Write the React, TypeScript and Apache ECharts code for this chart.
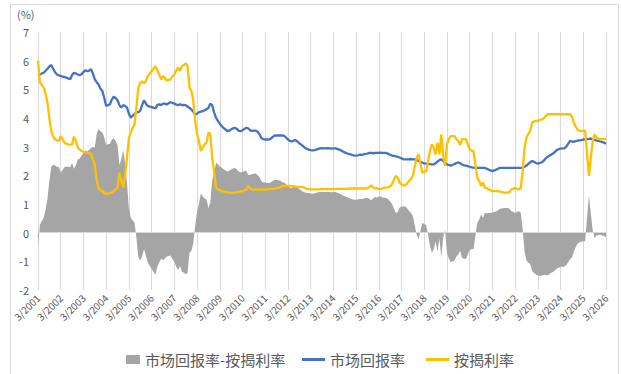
import React, { useEffect, useRef } from "react";
import * as echarts from "echarts";

// Monthly observations, March 2001 to March 2026 (one row per year, starting in March)
const marketReturn: number[] = [
  5.50, 5.52, 5.55, 5.58, 5.65, 5.72, 5.80, 5.85, 5.72, 5.60, 5.52, 5.49,
  5.47, 5.44, 5.43, 5.41, 5.38, 5.35, 5.50, 5.58, 5.55, 5.52, 5.49, 5.53,
  5.60, 5.67, 5.63, 5.65, 5.70, 5.55, 5.35, 5.25, 5.17, 5.02, 4.94, 4.70,
  4.42, 4.45, 4.48, 4.65, 4.74, 4.70, 4.62, 4.45, 4.36, 4.45, 4.42, 4.36,
  4.15, 4.01, 4.08, 4.13, 4.21, 4.20, 4.26, 4.45, 4.62, 4.50, 4.42, 4.40,
  4.38, 4.36, 4.33, 4.45, 4.48, 4.45, 4.50, 4.50, 4.47, 4.52, 4.55, 4.53,
  4.50, 4.47, 4.45, 4.48, 4.45, 4.46, 4.45, 4.40, 4.35, 4.30, 4.22, 4.12,
  4.15, 4.20, 4.22, 4.24, 4.27, 4.30, 4.35, 4.50, 4.45, 4.20, 4.01, 3.90,
  3.80, 3.72, 3.65, 3.60, 3.54, 3.56, 3.60, 3.64, 3.66, 3.62, 3.55, 3.54,
  3.57, 3.62, 3.66, 3.64, 3.57, 3.55, 3.56, 3.56, 3.52, 3.43, 3.30, 3.26,
  3.25, 3.25, 3.25, 3.28, 3.34, 3.39, 3.39, 3.39, 3.39, 3.39, 3.38, 3.32,
  3.25, 3.20, 3.18, 3.21, 3.23, 3.18, 3.12, 3.07, 3.02, 2.96, 2.92, 2.90,
  2.88, 2.87, 2.88, 2.90, 2.92, 2.94, 2.95, 2.94, 2.94, 2.95, 2.94, 2.93,
  2.94, 2.94, 2.92, 2.90, 2.87, 2.83, 2.80, 2.77, 2.75, 2.73, 2.71, 2.69,
  2.69, 2.70, 2.72, 2.71, 2.73, 2.75, 2.76, 2.78, 2.78, 2.77, 2.78, 2.78,
  2.78, 2.79, 2.78, 2.78, 2.78, 2.75, 2.72, 2.69, 2.68, 2.66, 2.65, 2.62,
  2.59, 2.56, 2.56, 2.56, 2.56, 2.57, 2.56, 2.56, 2.54, 2.50, 2.47, 2.44,
  2.42, 2.41, 2.40, 2.39, 2.38, 2.38, 2.42, 2.48, 2.53, 2.56, 2.50, 2.42,
  2.38, 2.36, 2.34, 2.36, 2.40, 2.43, 2.45, 2.42, 2.38, 2.35, 2.34, 2.32,
  2.30, 2.28, 2.27, 2.26, 2.26, 2.26, 2.26, 2.26, 2.26, 2.23, 2.20, 2.17,
  2.15, 2.17, 2.20, 2.23, 2.26, 2.26, 2.26, 2.26, 2.26, 2.26, 2.26, 2.26,
  2.26, 2.26, 2.26, 2.26, 2.26, 2.30, 2.34, 2.40, 2.46, 2.50, 2.47, 2.43,
  2.41, 2.43, 2.45, 2.50, 2.58, 2.64, 2.68, 2.72, 2.76, 2.82, 2.88, 2.91,
  2.93, 2.94, 2.94, 3.00, 3.10, 3.20, 3.18, 3.17, 3.19, 3.21, 3.22, 3.23,
  3.25, 3.25, 3.26, 3.27, 3.28, 3.26, 3.24, 3.21, 3.20, 3.18, 3.16, 3.14,
  3.10,
];

const mortgageRate: number[] = [
  6.00, 5.25, 5.15, 5.06, 4.85, 4.53, 4.00, 3.55, 3.35, 3.26, 3.22, 3.20,
  3.37, 3.25, 3.14, 3.10, 3.08, 3.07, 3.08, 3.35, 3.20, 2.97, 2.90, 2.85,
  2.82, 2.80, 2.79, 2.77, 2.75, 2.55, 2.38, 1.80, 1.55, 1.48, 1.45, 1.38,
  1.36, 1.37, 1.38, 1.40, 1.45, 1.51, 1.56, 2.09, 1.80, 1.57, 2.00, 2.62,
  3.30, 3.50, 3.65, 3.78, 4.40, 5.06, 5.22, 5.28, 5.20, 5.30, 5.46, 5.55,
  5.64, 5.72, 5.81, 5.65, 5.52, 5.35, 5.46, 5.40, 5.30, 5.33, 5.35, 5.45,
  5.52, 5.65, 5.76, 5.64, 5.81, 5.85, 5.90, 5.81, 5.06, 4.94, 4.60, 3.90,
  3.45, 3.20, 2.85, 2.97, 3.08, 3.14, 3.49, 3.45, 2.62, 2.15, 1.57, 1.51,
  1.49, 1.45, 1.44, 1.42, 1.41, 1.40, 1.40, 1.40, 1.40, 1.41, 1.42, 1.44,
  1.45, 1.47, 1.50, 1.63, 1.55, 1.51, 1.50, 1.50, 1.51, 1.50, 1.50, 1.51,
  1.50, 1.51, 1.52, 1.52, 1.53, 1.54, 1.55, 1.56, 1.58, 1.63, 1.63, 1.63,
  1.63, 1.63, 1.62, 1.62, 1.61, 1.60, 1.60, 1.60, 1.59, 1.56, 1.53, 1.52,
  1.51, 1.51, 1.51, 1.51, 1.51, 1.52, 1.52, 1.52, 1.52, 1.52, 1.52, 1.52,
  1.52, 1.52, 1.53, 1.53, 1.53, 1.53, 1.53, 1.53, 1.54, 1.54, 1.54, 1.54,
  1.54, 1.54, 1.54, 1.54, 1.54, 1.54, 1.55, 1.60, 1.65, 1.58, 1.54, 1.55,
  1.52, 1.53, 1.55, 1.56, 1.57, 1.58, 1.62, 1.69, 1.85, 1.98, 1.92, 1.75,
  1.68, 1.65, 1.65, 1.72, 1.80, 1.88, 1.98, 2.30, 2.62, 2.73, 2.40, 2.09,
  2.12, 2.15, 2.45, 2.85, 3.08, 2.97, 2.73, 3.14, 2.73, 3.43, 2.67, 2.33,
  3.08, 3.26, 3.37, 3.37, 3.37, 3.26, 3.20, 3.06, 3.26, 3.26, 3.26, 3.08,
  2.91, 2.85, 2.85, 2.38, 1.92, 1.80, 1.63, 1.75, 1.57, 1.55, 1.51, 1.48,
  1.45, 1.45, 1.45, 1.45, 1.43, 1.42, 1.40, 1.40, 1.40, 1.42, 1.51, 1.53,
  1.57, 1.53, 1.51, 1.57, 2.15, 2.97, 3.31, 3.45, 3.55, 3.84, 3.88, 3.90,
  3.90, 3.93, 3.95, 3.98, 4.05, 4.13, 4.13, 4.13, 4.13, 4.13, 4.13, 4.13,
  4.13, 4.13, 4.13, 4.13, 4.13, 4.13, 4.05, 3.84, 3.70, 3.60, 3.55, 3.55,
  3.55, 3.55, 2.73, 1.98, 2.62, 3.20, 3.43, 3.31, 3.28, 3.26, 3.26, 3.26,
  3.26,
];

// Spread series: market return minus mortgage rate
const spread: number[] = marketReturn.map((v, i) => +(v - mortgageRate[i]).toFixed(2));

// Month labels "M/YYYY", starting at 3/2001
const START_YEAR = 2001;
const START_MONTH = 3;
const categories: string[] = marketReturn.map((_, i) => {
  const m = START_MONTH - 1 + i;
  return `${(m % 12) + 1}/${START_YEAR + Math.floor(m / 12)}`;
});

const seriesNames = ["市场回报率-按揭利率", "市场回报率", "按揭利率"];
const unitLabel = "(%)";

const TEXT = "#595959";
const GRID = "#d9d9d9";
const FONT = "'Noto Sans CJK SC', 'Noto Sans', sans-serif";

export default function App() {
  const ref = useRef<HTMLDivElement>(null);

  useEffect(() => {
    if (!ref.current) return;
    const chart = echarts.init(ref.current, undefined, { renderer: "svg" });
    const legendText = { color: TEXT, fontSize: 15, fontFamily: FONT };
    chart.setOption({
      animation: false,
      backgroundColor: "#ffffff",
      textStyle: { fontFamily: FONT },
      graphic: [
        {
          type: "rect",
          shape: { x: 10.5, y: 4.5, width: 608, height: 380 },
          style: { fill: "none", stroke: GRID, lineWidth: 1 },
          silent: true,
        },
        {
          type: "text",
          left: 17,
          top: 8,
          style: { text: unitLabel, fill: TEXT, fontSize: 11, fontFamily: FONT },
        },
      ],
      grid: { left: 38, right: 15, top: 32, bottom: 84 },
      legend: [
        {
          data: [seriesNames[0]],
          left: 121,
          top: 347,
          icon: "rect",
          itemWidth: 14,
          itemHeight: 9,
          itemGap: 5,
          textStyle: legendText,
        },
        {
          data: [seriesNames[1]],
          left: 297,
          top: 347,
          icon: "rect",
          itemWidth: 23,
          itemHeight: 3,
          textStyle: legendText,
        },
        {
          data: [seriesNames[2]],
          left: 421,
          top: 347,
          icon: "rect",
          itemWidth: 23,
          itemHeight: 3,
          textStyle: legendText,
        },
      ],
      xAxis: {
        type: "category",
        data: categories,
        boundaryGap: false,
        axisLine: { show: false, onZero: false },
        axisTick: { show: false },
        axisLabel: {
          interval: 11,
          rotate: 45,
          color: TEXT,
          fontSize: 10,
          margin: 6,
          fontFamily: FONT,
        },
        splitLine: { show: true, interval: 11, lineStyle: { color: GRID, width: 1 } },
      },
      yAxis: {
        type: "value",
        min: -2,
        max: 7,
        interval: 1,
        axisLine: { show: false },
        axisTick: { show: false },
        splitLine: { show: false },
        axisLabel: { color: TEXT, fontSize: 11, margin: 9, fontFamily: FONT },
      },
      series: [
        {
          name: seriesNames[0],
          type: "line",
          data: spread,
          symbol: "none",
          color: "#a5a5a5",
          lineStyle: { width: 0 },
          areaStyle: { color: "#a5a5a5", opacity: 1 },
          markLine: {
            silent: true,
            symbol: ["none", "none"],
            label: { show: false },
            lineStyle: { color: GRID, width: 1, type: "solid" },
            data: [{ yAxis: 0 }],
          },
        },
        {
          name: seriesNames[1],
          type: "line",
          data: marketReturn,
          symbol: "none",
          color: "#4472c4",
          lineStyle: { width: 2.3, color: "#4472c4" },
        },
        {
          name: seriesNames[2],
          type: "line",
          data: mortgageRate,
          symbol: "none",
          color: "#ffc000",
          lineStyle: { width: 2.3, color: "#ffc000" },
        },
      ],
    });
    return () => chart.dispose();
  }, []);

  return (
    <div
      ref={ref}
      style={{ position: "absolute", left: 0, top: 0, width: 621, height: 374 }}
    />
  );
}
